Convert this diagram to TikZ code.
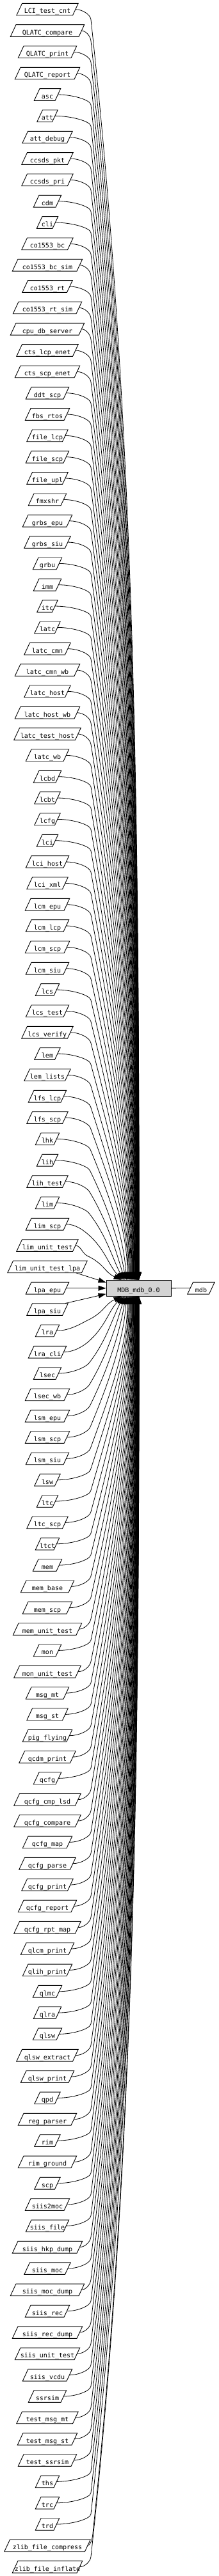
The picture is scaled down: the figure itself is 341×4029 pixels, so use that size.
\documentclass[tikz,border=0pt]{standalone}
\usepackage{fontspec}
\newfontfamily\monof{DejaVu Sans Mono}
\usetikzlibrary{calc,arrows.meta}
\definecolor{mdbfill}{RGB}{211,211,211}
\tikzset{
  lbl/.style={inner sep=0pt, minimum height=18.7bp, text height=13.9bp, text depth=1.3bp, font=\monof\fontsize{10bp}{12bp}\selectfont},
  shp/.style={draw=black, line width=0.9bp, line join=miter},
  edge/.style={draw=black, line width=0.8bp, -{Triangle[length=12bp,width=8bp]}},
  plainedge/.style={draw=black, line width=0.9bp},
  mdbbox/.style={draw=black, fill=mdbfill, line width=0.9bp, inner sep=0pt, minimum width=101bp, minimum height=25bp, text height=13.9bp, text depth=1.3bp, font=\monof\fontsize{10bp}{12bp}\selectfont}
}
\newcommand\conn[3]{%
 \pgfmathsetmacro\qY{14.7+33.3333*(#1-1)}%
 \pgfmathtruncatemacro\qD{abs(#1-61)}%
 \pgfmathsetmacro\qSx{74+#3/2-4.35}%
 \ifnum\qD=0\relax
   \draw[edge] (#2.east) -- (MDB.west);
 \else\ifnum\qD=1\relax
   \ifnum#1<61\relax
     \draw[edge] ([xshift=-13bp]#2.south east) -- ([yshift=9bp]MDB.west);
   \else
     \draw[edge] (#2.north east) -- ([yshift=-9bp]MDB.west);
   \fi
 \else
   \ifnum#1<61\relax \def\qS{1}\def\qYe{2002.3}\def\qAnc{north west}\else \def\qS{-1}\def\qYe{2027.3}\def\qAnc{south west}\fi
   \pgfmathsetmacro\qXe{190+28*(1-exp(-(\qD-2)/15))}%
   \pgfmathsetmacro\qBx{max(142-6*exp(-(\qD-2)/3),\qSx+8)}%
   \pgfmathsetmacro\qBy{\qY+16*\qS}%
   \pgfmathsetmacro\qDx{\qXe-\qBx}%
   \pgfmathsetmacro\qDy{abs(\qYe-\qBy)}%
   \pgfmathsetmacro\qAl{(\qD<10) ? 0.5 : (0.5+0.45*(\qD-10)/50)}%
   \pgfmathsetmacro\qBe{(\qD<8) ? (0.5*(1-(\qD-2)/6)) : 0}%
   \pgfmathsetmacro\qCax{\qBx+\qAl*\qDx}%
   \pgfmathsetmacro\qCay{\qBy+\qS*\qDy/3}%
   \pgfmathsetmacro\qCbx{\qXe-\qBe*\qDx}%
   \pgfmathsetmacro\qCby{\qYe-\qS*\qDy/3}%
   \pgfmathsetmacro\qSa{\qSx+0.45*(\qBx-\qSx)}%
   \pgfmathsetmacro\qXo{\qXe-166}%
   \draw[edge] (#2.east) .. controls (\qSa,\qY) and ($(\qBx,\qBy)!-8bp!(\qCax,\qCay)$) .. (\qBx,\qBy) .. controls (\qCax,\qCay) and (\qCbx,\qCby) .. ([xshift=\qXo bp]MDB.\qAnc);
 \fi\fi
}
\newcommand\pshape[1]{%
  \draw[shp] ([shift={(-4.35,9.35)}]#1.west) -- ([shift={(4.35,-9.35)}]#1.west) -- ([shift={(4.35,-9.35)}]#1.east) -- ([shift={(-4.35,9.35)}]#1.east) -- cycle;}
\newcommand\pn[3]{% row, width, text
  \pgfmathsetmacro\qPy{14.7+33.3333*(#1-1)}%
  \pgfmathsetmacro\qPw{#2-8.7}%
  \node[lbl, minimum width=\qPw bp] (n#1) at (74,\qPy) {\makebox[0pt]{#3}};
  \pshape{n#1}
  \conn{#1}{n#1}{#2}
}
\begin{document}
\begin{tikzpicture}[x=1bp,y=-1bp]
\useasboundingbox (0,0) rectangle (341,4029);
\node[mdbbox] (MDB) at (216.5,2014.8) {MDB\_mdb\_0.0};
\node[lbl, minimum width=33.3bp] (mdb) at (314,2014.7) {\makebox[0pt]{mdb}};
\pshape{mdb}
\draw[plainedge] (MDB.east) -- (mdb.west);
\pn{1}{96}{LCI\_test\_cnt}
\pn{2}{115}{QLATC\_compare}
\pn{3}{91}{QLATC\_print}
\pn{4}{101}{QLATC\_report}
\pn{5}{41}{asc}
\pn{6}{32}{att}
\pn{7}{78}{att\_debug}
\pn{8}{80}{ccsds\_pkt}
\pn{9}{80}{ccsds\_pri}
\pn{10}{43}{cdm}
\pn{11}{33}{cli}
\pn{12}{80}{co1553\_bc}
\pn{13}{109}{co1553\_bc\_sim}
\pn{14}{78}{co1553\_rt}
\pn{15}{107}{co1553\_rt\_sim}
\pn{16}{115}{cpu\_db\_server}
\pn{17}{96}{cts\_lcp\_enet}
\pn{18}{101}{cts\_scp\_enet}
\pn{19}{67}{ddt\_scp}
\pn{20}{69}{fbs\_rtos}
\pn{21}{64}{file\_lcp}
\pn{22}{67}{file\_scp}
\pn{23}{64}{file\_upl}
\pn{24}{59}{fmxshr}
\pn{25}{77}{grbs\_epu}
\pn{26}{72}{grbs\_siu}
\pn{27}{45}{grbu}
\pn{28}{43}{imm}
\pn{29}{32}{itc}
\pn{30}{40}{latc}
\pn{31}{72}{latc\_cmn}
\pn{32}{101}{latc\_cmn\_wb}
\pn{33}{72}{latc\_host}
\pn{34}{101}{latc\_host\_wb}
\pn{35}{104}{latc\_test\_host}
\pn{36}{67}{latc\_wb}
\pn{37}{43}{lcbd}
\pn{38}{40}{lcbt}
\pn{39}{40}{lcfg}
\pn{40}{33}{lci}
\pn{41}{67}{lci\_host}
\pn{42}{64}{lci\_xml}
\pn{43}{69}{lcm\_epu}
\pn{44}{67}{lcm\_lcp}
\pn{45}{69}{lcm\_scp}
\pn{46}{67}{lcm\_siu}
\pn{47}{37}{lcs}
\pn{48}{67}{lcs\_test}
\pn{49}{80}{lcs\_verify}
\pn{50}{40}{lem}
\pn{51}{72}{lem\_lists}
\pn{52}{59}{lfs\_lcp}
\pn{53}{64}{lfs\_scp}
\pn{54}{37}{lhk}
\pn{55}{33}{lih}
\pn{56}{64}{lih\_test}
\pn{57}{37}{lim}
\pn{58}{67}{lim\_scp}
\pn{59}{96}{lim\_unit\_test}
\pn{60}{124}{lim\_unit\_test\_lpa}
\pn{61}{67}{lpa\_epu}
\pn{62}{64}{lpa\_siu}
\pn{63}{37}{lra}
\pn{64}{59}{lra\_cli}
\pn{65}{43}{lsec}
\pn{66}{69}{lsec\_wb}
\pn{67}{69}{lsm\_epu}
\pn{68}{69}{lsm\_scp}
\pn{69}{67}{lsm\_siu}
\pn{70}{40}{lsw}
\pn{71}{33}{ltc}
\pn{72}{64}{ltc\_scp}
\pn{73}{37}{ltct}
\pn{74}{45}{mem}
\pn{75}{83}{mem\_base}
\pn{76}{77}{mem\_scp}
\pn{77}{107}{mem\_unit\_test}
\pn{78}{43}{mon}
\pn{79}{104}{mon\_unit\_test}
\pn{80}{67}{msg\_mt}
\pn{81}{64}{msg\_st}
\pn{82}{77}{pig\_flying}
\pn{83}{88}{qcdm\_print}
\pn{84}{43}{qcfg}
\pn{85}{104}{qcfg\_cmp\_lsd}
\pn{86}{104}{qcfg\_compare}
\pn{87}{77}{qcfg\_map}
\pn{88}{88}{qcfg\_parse}
\pn{89}{80}{qcfg\_print}
\pn{90}{91}{qcfg\_report}
\pn{91}{104}{qcfg\_rpt\_map}
\pn{92}{83}{qlcm\_print}
\pn{93}{77}{qlih\_print}
\pn{94}{45}{qlmc}
\pn{95}{43}{qlra}
\pn{96}{45}{qlsw}
\pn{97}{96}{qlsw\_extract}
\pn{98}{83}{qlsw\_print}
\pn{99}{40}{qpd}
\pn{100}{91}{reg\_parser}
\pn{101}{40}{rim}
\pn{102}{91}{rim\_ground}
\pn{103}{40}{scp}
\pn{104}{69}{siis2moc}
\pn{105}{67}{siis\_file}
\pn{106}{109}{siis\_hkp\_dump}
\pn{107}{72}{siis\_moc}
\pn{108}{115}{siis\_moc\_dump}
\pn{109}{69}{siis\_rec}
\pn{110}{109}{siis\_rec\_dump}
\pn{111}{101}{siis\_unit\_test}
\pn{112}{77}{siis\_vcdu}
\pn{113}{59}{ssrsim}
\pn{114}{96}{test\_msg\_mt}
\pn{115}{93}{test\_msg\_st}
\pn{116}{91}{test\_ssrsim}
\pn{117}{37}{ths}
\pn{118}{37}{trc}
\pn{119}{37}{trd}
\pn{120}{134}{zlib\_file\_compress}
\pn{121}{109}{zlib\_file\_inflate}
\end{tikzpicture}
\end{document}
